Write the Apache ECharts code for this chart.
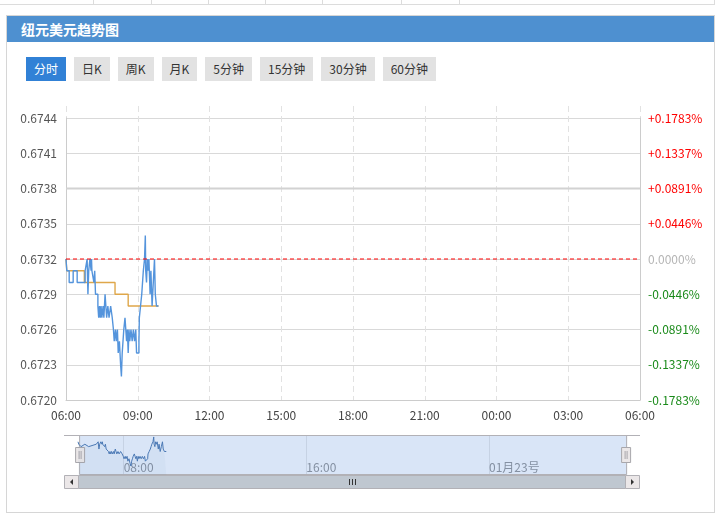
<!DOCTYPE html>
<html><head><meta charset="utf-8">
<script src="https://cdn.jsdelivr.net/npm/echarts@6/dist/echarts.min.js"></script>
<style>
html,body{margin:0;padding:0;background:#fff;width:725px;height:518px;overflow:hidden;font-family:"Noto Sans CJK SC","Noto Sans",sans-serif;}
.abs{position:absolute;box-sizing:border-box;}
#topline{left:0;top:4px;width:715px;height:1px;background:#dcdcdc;}
.tc{top:0;width:1px;height:5px;background:#dcdcdc;}
#panel{left:6px;top:15px;width:709px;height:498px;border:1px solid #d6d6d6;}
#hdr{left:7px;top:16px;width:707px;height:26px;background:#4e90d0;color:#fff;font-weight:bold;font-size:14px;line-height:26px;padding-left:14px;}
#btns{left:26px;top:57px;height:24px;display:flex;}
.b{height:24px;line-height:24px;padding:0 8px;margin-right:8px;font-size:12px;color:#333;background:#e2e2e2;white-space:nowrap;}
.b.on{background:#3181d6;color:#fff;}
#chart{left:0;top:0;width:725px;height:518px;z-index:2;}
</style></head>
<body>
<div class="abs" id="topline"></div>
<div class="abs tc" style="left:93px"></div>
<div class="abs tc" style="left:151px"></div>
<div class="abs tc" style="left:208px"></div>
<div class="abs tc" style="left:265px"></div>
<div class="abs tc" style="left:322px"></div>
<div class="abs tc" style="left:401px"></div>
<div class="abs tc" style="left:459px"></div>
<div class="abs tc" style="left:714px"></div>
<div class="abs" id="panel"></div>
<div class="abs" id="hdr">纽元美元趋势图</div>
<div class="abs" id="btns">
<div class="b on">分时</div><div class="b">日K</div><div class="b">周K</div><div class="b">月K</div><div class="b">5分钟</div><div class="b">15分钟</div><div class="b">30分钟</div><div class="b">60分钟</div>
</div>
<div class="abs" id="chart"></div>
<script>
// ---- data ----
const priceTimes = ["06:00","06:02","06:08","06:18","06:28","06:48","06:53","06:55","06:57","07:00","07:03","07:04","07:05","07:10","07:12","07:14","07:20","07:22","07:24","07:26","07:28","07:30","07:33","07:35","07:38","07:40","07:42","07:45","07:48","07:52","07:56","07:59","08:01","08:04","08:06","08:09","08:11","08:14","08:17","08:19","08:21","08:23","08:25","08:28","08:30","08:32","08:34","08:36","08:38","08:40","08:43","08:46","08:49","08:52","08:55","08:57","09:03","09:04","09:07","09:10","09:12","09:14","09:17","09:19","09:20","09:22","09:24","09:26","09:28","09:31","09:33","09:36","09:39","09:42","09:44","09:47","09:52"];
const priceValues = [0.6732,0.6731,0.6730,0.6731,0.6730,0.6731,0.6732,0.6729,0.6731,0.6732,0.6731,0.6732,0.6731,0.6730,0.6731,0.6729,0.6728,0.6727,0.6728,0.6727,0.6728,0.6727,0.6728,0.6727,0.6729,0.6728,0.6727,0.6728,0.6727,0.6728,0.6727,0.6726,0.6725,0.6726,0.6725,0.6726,0.6724,0.6725,0.6723,0.6722,0.6724,0.6725,0.6726,0.6727,0.6726,0.6725,0.6726,0.6724,0.6726,0.6725,0.6726,0.6725,0.6726,0.6725,0.6726,0.6724,0.6725,0.6727,0.6728,0.6729,0.6730,0.6731,0.6732,0.6734,0.6731,0.6730,0.6732,0.6731,0.6732,0.6729,0.6731,0.6728,0.6730,0.6732,0.6729,0.6728,0.6728];
const avgTimes = ["06:00","06:02","06:46","08:03","08:36","09:52"];
const avgValues = [0.6732,0.6731,0.6730,0.6729,0.6728,0.6728];
const prevClose = 0.6732;
const refLevel = 0.6738;
const dayTimes = ["06:00","06:00+"];
const leftTickLabels = ["0.6720","0.6723","0.6726","0.6729","0.6732","0.6735","0.6738","0.6741","0.6744"];
const rightTickLabels = ["-0.1783%","-0.1337%","-0.0891%","-0.0446%","0.0000%","+0.0446%","+0.0891%","+0.1337%","+0.1783%"];
const xTickLabels = ["06:00","09:00","12:00","15:00","18:00","21:00","00:00","03:00","06:00"];
const navTickValues = [120, 600, 1080];
const navTickLabels = ["08:00","16:00","01月23号"];

// ---- helpers ----
function toMin(s){if(s.slice(-1)==='+')return 1440;const p=s.split(':');let v=(+p[0]-6)*60+(+p[1]);if(v<0)v+=1440;return v;}
const yMin=0.6720, yMax=0.6744, yStep=0.0003;
function yIdx(v){return Math.round((v-yMin)/yStep);}
const priceData = priceTimes.map((t,i)=>[toMin(t),priceValues[i]]);
const avgData = avgTimes.map((t,i)=>[toMin(t),avgValues[i]]);
const prevData = dayTimes.map(t=>[toMin(t),prevClose]);
const refData = dayTimes.map(t=>[toMin(t),refLevel]);
const FONT='"Noto Sans CJK SC","Noto Sans",sans-serif';

const chart = echarts.init(document.getElementById('chart'), null, {renderer:'canvas'});
chart.setOption({
  animation:false,
  textStyle:{fontFamily:FONT},
  grid:[
    {left:66,right:85,top:106,bottom:118},
    {left:66,right:85,top:118,bottom:118},
    {left:78,right:99,top:435,height:40}
  ],
  xAxis:[
    {gridIndex:0,type:'value',min:0,max:1440,interval:180,axisLine:{show:false},axisTick:{show:false},axisLabel:{show:false},
     splitLine:{show:true,lineStyle:{color:'#e2e2e2',type:[6,4],width:1}}},
    {gridIndex:1,type:'value',min:0,max:1440,interval:180,axisLine:{show:true,lineStyle:{color:'#cccccc'}},axisTick:{show:false},
     splitLine:{show:false},
     axisLabel:{color:'#444',fontSize:12,margin:9,formatter:v=>xTickLabels[Math.round(v/180)]||''}},
    {gridIndex:2,type:'value',min:0,max:1440,axisLine:{show:false},
     axisTick:{show:false,customValues:navTickValues},
     splitLine:{show:true,lineStyle:{color:'#e6e6e6'}},
     axisLabel:{inside:true,customValues:navTickValues,align:'left',color:'#8e8e8e',fontSize:12,margin:2,
       formatter:v=>{const i=navTickValues.indexOf(v);return i>=0?navTickLabels[i]:'';}}}
  ],
  yAxis:[
    {gridIndex:0,type:'value',min:0,max:1,show:false},
    {gridIndex:1,type:'value',position:'left',min:yMin,max:yMax,interval:yStep,
     axisLine:{show:true,lineStyle:{color:'#cccccc'}},axisTick:{show:false},
     splitLine:{show:true,lineStyle:{color:'#d9d9d9'}},
     axisLabel:{color:'#555',fontSize:12,margin:9,formatter:v=>leftTickLabels[yIdx(v)]||''}},
    {gridIndex:1,type:'value',position:'right',min:yMin,max:yMax,interval:yStep,
     axisLine:{show:true,lineStyle:{color:'#cccccc'}},axisTick:{show:false},splitLine:{show:false},
     axisLabel:{fontSize:12,margin:8,formatter:v=>rightTickLabels[yIdx(v)]||'',
       color:v=>{const i=yIdx(v);return i>4?'#ff0000':(i<4?'#1a8a1a':'#b5b5b5');}}},
    {gridIndex:2,type:'value',min:0.67183,max:0.67348,show:false}
  ],
  dataZoom:[{
    type:'slider',xAxisIndex:[0,1],filterMode:'none',start:0,end:100,
    left:78,right:99,top:435,height:40,
    showDataShadow:false,showDetail:false,brushSelect:false,moveHandleSize:0,zoomLock:true,
    borderColor:'#b2b1b6',borderRadius:0,backgroundColor:'rgba(0,0,0,0)',
    fillerColor:'rgba(102,153,225,0.25)',
    handleIcon:'path://M0,0L9,0L9,15L0,15Z M3.5,3.5L3.5,11.5 M5.5,3.5L5.5,11.5',
    handleSize:15,
    handleStyle:{color:'#ebe7e8',borderColor:'#a8a7ac',borderWidth:1}
  }],
  series:[
    {name:'ref',type:'line',xAxisIndex:1,yAxisIndex:1,showSymbol:false,symbol:'none',silent:true,
     lineStyle:{color:'#d2d2d2',width:2},data:refData,z:1},
    {name:'prevClose',type:'line',xAxisIndex:1,yAxisIndex:1,showSymbol:false,symbol:'none',silent:true,
     lineStyle:{color:'#ff0000',type:[4,3],width:1},data:prevData,z:4},
    {name:'price',type:'line',xAxisIndex:1,yAxisIndex:1,step:'end',showSymbol:false,symbol:'none',
     lineStyle:{color:'#5494dc',width:1.4},data:priceData,z:3},
    {name:'avg',type:'line',xAxisIndex:1,yAxisIndex:1,step:'end',showSymbol:false,symbol:'none',
     lineStyle:{color:'#dfa74a',width:1.4},data:avgData,z:2},
    {name:'nav',type:'line',xAxisIndex:2,yAxisIndex:3,showSymbol:false,symbol:'none',
     lineStyle:{color:'#4a78b4',width:1},areaStyle:{color:'rgba(69,114,167,0.06)'},data:priceData,z:10}
  ],
  graphic:[
    {type:'line',shape:{x1:64,y1:435.5,x2:640,y2:435.5},style:{stroke:'#b2b1b6',lineWidth:1},z:20},
    {type:'rect',shape:{x:78.5,y:475.5,width:547,height:13},style:{fill:'#bfc7d0',stroke:'#b2b1b6',lineWidth:1},z:20},
    {type:'rect',shape:{x:64.5,y:475.5,width:14,height:13},style:{fill:'#ebe7e8',stroke:'#b2b1b6',lineWidth:1},z:21},
    {type:'rect',shape:{x:625.5,y:475.5,width:14,height:13},style:{fill:'#ebe7e8',stroke:'#b2b1b6',lineWidth:1},z:21},
    {type:'polygon',shape:{points:[[70,482],[73,479],[73,485]]},style:{fill:'#333'},z:22},
    {type:'polygon',shape:{points:[[634,482],[631,479],[631,485]]},style:{fill:'#333'},z:22},
    {type:'line',shape:{x1:349.5,y1:479,x2:349.5,y2:485},style:{stroke:'#333',lineWidth:1},z:22},
    {type:'line',shape:{x1:352.5,y1:479,x2:352.5,y2:485},style:{stroke:'#333',lineWidth:1},z:22},
    {type:'line',shape:{x1:355.5,y1:479,x2:355.5,y2:485},style:{stroke:'#333',lineWidth:1},z:22}
  ]
});
</script>
</body></html>
